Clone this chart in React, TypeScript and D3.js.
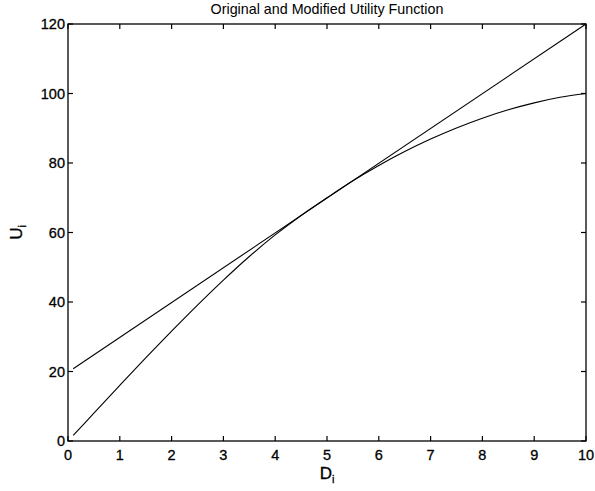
import React from 'react'
import * as d3 from 'd3'

// values
const dValues = [0.1, 0.5, 1, 1.5, 2, 2.5, 3, 3.5, 4, 4.5, 5, 5.5, 6, 6.5, 7, 7.5, 8, 8.5, 9, 9.5, 10]
const originalU = [1.6, 8.0, 16.0, 23.9, 31.6, 39.1, 46.3, 53.1, 59.3, 64.9, 70, 74.9, 79.3, 83.3, 86.9, 90.1, 92.9, 95.3, 97.3, 98.9, 100]
const lineD = [0.1, 10]
const modifiedU = [20.8, 120]
const xTicks = [0, 1, 2, 3, 4, 5, 6, 7, 8, 9, 10]
const yTicks = [0, 20, 40, 60, 80, 100, 120]

const width = 595
const height = 491
const margin = { top: 24, right: 9, bottom: 50, left: 68 }

export default function App() {
  const x = d3.scaleLinear().domain([0, 10]).range([margin.left, width - margin.right])
  const y = d3.scaleLinear().domain([0, 120]).range([height - margin.bottom, margin.top])
  const line = d3.line<[number, number]>().x(d => x(d[0])).y(d => y(d[1]))
  const curve = d3.line<[number, number]>().x(d => x(d[0])).y(d => y(d[1])).curve(d3.curveMonotoneX)

  const orig = dValues.map((d, i) => [d, originalU[i]] as [number, number])
  const mod = lineD.map((d, i) => [d, modifiedU[i]] as [number, number])
  const x0 = x(0), x1 = x(10), y0 = y(0), y1 = y(120)
  const font = '"Liberation Sans", Arial, sans-serif'

  return (
    <svg width={width} height={height} viewBox={`0 0 ${width} ${height}`}
      style={{ position: 'absolute', left: 0, top: 0, background: '#fff' }} fontFamily={font}>
      <rect x={0} y={0} width={width} height={height} fill="#fff" />
      <text x={(x0 + x1) / 2} y={13.5} textAnchor="middle" fontSize={14.3}>Original and Modified Utility Function</text>

      <rect x={x0} y={y1} width={x1 - x0} height={y0 - y1} fill="none" stroke="#000" strokeWidth={1.3} />
      {xTicks.map(t => (
        <g key={'x' + t}>
          <line x1={x(t)} x2={x(t)} y1={y0} y2={y0 - 5} stroke="#000" strokeWidth={1.2} />
          <line x1={x(t)} x2={x(t)} y1={y1} y2={y1 + 5} stroke="#000" strokeWidth={1.2} />
          <text x={x(t)} y={y0 + 18.5} textAnchor="middle" fontSize={14.5} stroke="#000" strokeWidth={0.3}>{t}</text>
        </g>
      ))}
      {yTicks.map(t => (
        <g key={'y' + t}>
          <line x1={x0} x2={x0 + 5} y1={y(t)} y2={y(t)} stroke="#000" strokeWidth={1.2} />
          <line x1={x1} x2={x1 - 5} y1={y(t)} y2={y(t)} stroke="#000" strokeWidth={1.2} />
          <text x={x0 - 3} y={y(t) + 5} textAnchor="end" fontSize={14.5} stroke="#000" strokeWidth={0.3}>{t}</text>
        </g>
      ))}

      <path d={line(mod) || ''} fill="none" stroke="#000" strokeWidth={1.1} />
      <path d={curve(orig) || ''} fill="none" stroke="#000" strokeWidth={1.1} />

      <text x={(x0 + x1) / 2} y={479} textAnchor="middle" fontSize={17} stroke="#000" strokeWidth={0.3}>
        D<tspan fontSize={11} dy={4}>i</tspan>
      </text>
      <text transform={`translate(22,${(y0 + y1) / 2}) rotate(-90)`} textAnchor="middle" fontSize={17} stroke="#000" strokeWidth={0.3}>
        U<tspan fontSize={11} dy={4}>i</tspan>
      </text>
    </svg>
  )
}
